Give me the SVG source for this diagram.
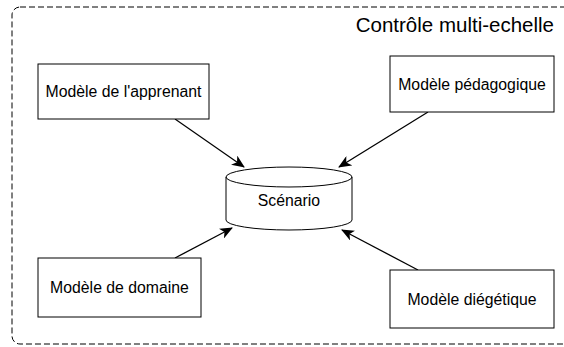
<svg xmlns="http://www.w3.org/2000/svg" width="564" height="347" viewBox="0 0 564 347">
<defs>
<marker id="arr" viewBox="0 0 13 11" refX="12" refY="5.5" markerWidth="13" markerHeight="11" markerUnits="userSpaceOnUse" orient="auto">
<path d="M0,0 L13,5.5 L0,11 L3.5,5.5 Z" fill="#000"/>
</marker>
<style>
.box{fill:#fff;stroke:#000;stroke-width:1}
.lbl{font-family:"Liberation Sans",Arial,sans-serif;font-size:15.8px;fill:#000;text-anchor:middle;dominant-baseline:central}
.edge{stroke:#000;stroke-width:1.3;fill:none;marker-end:url(#arr)}
</style>
</defs>
<rect width="564" height="347" fill="#fff"/>
<g id="container">
<rect x="12" y="7" width="560" height="337" rx="8" ry="8" fill="none" stroke="#000" stroke-width="1" stroke-dasharray="6,3"/>
<text x="554" y="24" style="font-family:'Liberation Sans',Arial,sans-serif;font-size:20.5px;text-anchor:end;dominant-baseline:central">Contrôle multi-echelle</text>
</g>
<g id="connectors">
<path class="edge" d="M175,119 L244,167"/>
<path class="edge" d="M428,112 L339,167"/>
<path class="edge" d="M175,258 L232,228"/>
<path class="edge" d="M418,270 L342,230"/>
</g>
<g id="apprenant">
<rect class="box" x="38" y="64" width="171" height="55"/>
<text class="lbl" x="123.5" y="91.5">Modèle de l'apprenant</text>
</g>
<g id="pedagogique">
<rect class="box" x="390" y="56" width="164" height="56"/>
<text class="lbl" x="472" y="84">Modèle pédagogique</text>
</g>
<g id="scenario">
<path class="box" d="M226,177 A63,10 0 0 1 352,177 L352,220 A63,10 0 0 1 226,220 Z"/>
<path d="M226,177 A63,10 0 0 0 352,177" fill="none" stroke="#000"/>
<text class="lbl" x="289" y="200">Scénario</text>
</g>
<g id="domaine">
<rect class="box" x="38" y="258" width="163" height="59"/>
<text class="lbl" x="119.5" y="287.5">Modèle de domaine</text>
</g>
<g id="diegetique">
<rect class="box" x="390" y="270" width="164" height="58"/>
<text class="lbl" x="472" y="299">Modèle diégétique</text>
</g>
</svg>
